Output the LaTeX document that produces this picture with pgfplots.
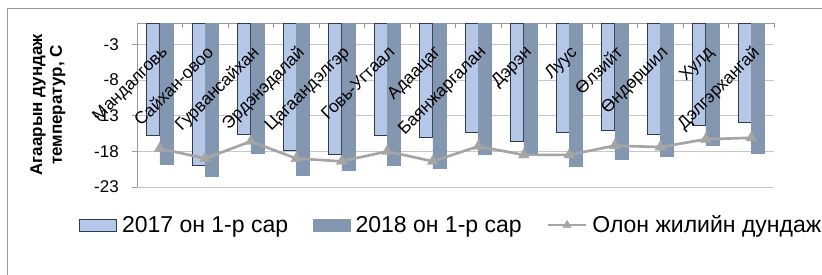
\documentclass[border=0pt]{standalone}
\usepackage{pgfplots}
\pgfplotsset{compat=1.18}
\usepackage{fontspec}
\setmainfont{Liberation Sans}
\definecolor{lightbar}{HTML}{B4C7E7}
\definecolor{darkbar}{HTML}{8497B0}
\definecolor{baredge}{HTML}{2F3B52}
\definecolor{avgline}{HTML}{A5A5A5}
\pgfplotsset{
  barleg/.style={legend image code/.code={\draw[##1] (0pt,-4.5pt) rectangle (27.75pt,4.5pt);}},
  lineleg/.style={legend image code/.code={\draw[mark repeat=2, mark phase=2, ##1, mark size=3.5pt] plot coordinates {(0pt,0pt) (14.25pt,0pt) (28.5pt,0pt)};}},
}
\begin{document}
\begin{tikzpicture}[x=0.75pt,y=0.75pt]
\draw[black!40, line width=0.75pt] (7.5,-20) rectangle (840,266);
\begin{axis}[
  at={(102.75pt,66pt)}, anchor=south west,
  scale only axis, width=477.75pt, height=123pt,
  xmin=0.5, xmax=14.5, ymin=-23, ymax=0,
  axis x line*=top, axis y line*=left,
  axis line style={-, black!40, line width=0.75pt},
  xtick={0.5,1.5,...,14.5}, xticklabels={},
  ytick={-23,-18,-13,-8,-3},
  yticklabels={-23,-18,-13,-8,-3},
  tick align=inside,
  major tick length=3.75pt,
  tick style={black!40, line width=0.75pt},
  ytick style={xshift=-3.75pt},
  yticklabel style={inner sep=0pt, xshift=-13.5pt, font=\fontsize{12.75pt}{15pt}\selectfont},
  ymajorgrids, major grid style={black!22, line width=0.75pt},
  ylabel={Агаарын дундаж\\температур, С},
  ylabel style={at={(axis description cs:-0.1397,0.5)}, anchor=center, align=center,
    font=\bfseries\fontsize{12.75pt}{14.8pt}\selectfont},
  legend columns=3,
  legend cell align=left,
  legend style={at={(axis description cs:-0.0911,-0.2317)}, anchor=west,
    draw=none, fill=none, inner sep=0pt,
    font=\fontsize{17.25pt}{20pt}\selectfont,
    nodes={inner sep=0pt},
    /tikz/every odd column/.append style={column sep=3.75pt},
    /tikz/every even column/.append style={column sep=18.75pt}},
  clip=false,
]
\addplot[ybar, bar width=9.75pt, bar shift=-4.875pt, fill=lightbar, draw=baredge, line width=0.6pt, barleg]
coordinates {(1,-15.7) (2,-20.0) (3,-15.6) (4,-17.9) (5,-18.4) (6,-15.8) (7,-16.1)
 (8,-15.3) (9,-16.6) (10,-15.4) (11,-15.0) (12,-15.6) (13,-14.3) (14,-14.0)};
\addlegendentry{2017 он 1-р сар}
\addplot[ybar, bar width=9.75pt, bar shift=4.875pt, fill=darkbar, draw=darkbar, line width=0.3pt, barleg]
coordinates {(1,-19.8) (2,-21.5) (3,-18.2) (4,-21.4) (5,-20.7) (6,-19.9) (7,-20.4)
 (8,-18.4) (9,-18.2) (10,-20.1) (11,-19.1) (12,-18.7) (13,-17.1) (14,-18.2)};
\addlegendentry{2018 он 1-р сар}
\addplot[avgline, line width=2pt, mark=triangle*, mark size=4.7pt,
  mark options={fill=avgline, draw=avgline, line width=0.3pt}, lineleg]
coordinates {(1,-17.6) (2,-19.0) (3,-16.6) (4,-19.0) (5,-19.4) (6,-18.0) (7,-19.4)
 (8,-17.3) (9,-18.5) (10,-18.5) (11,-17.2) (12,-17.4) (13,-16.3) (14,-16.1)};
\addlegendentry{Олон жилийн дундаж}
\tikzset{lab/.style={rotate=45, anchor=north east, inner sep=0pt, font=\fontsize{13pt}{15pt}\selectfont}}
\node[lab] at (axis cs:1,-3) {Мандалговь};
\node[lab] at (axis cs:2,-3) {Сайхан-овоо};
\node[lab] at (axis cs:3,-3) {Гурвансайхан};
\node[lab] at (axis cs:4,-3) {Эрдэнэдалай};
\node[lab] at (axis cs:5,-3) {Цагаандэлгэр};
\node[lab] at (axis cs:6,-3) {Говь-Угтаал};
\node[lab] at (axis cs:7,-3) {Адаацаг};
\node[lab] at (axis cs:8,-3) {Баянжаргалан};
\node[lab] at (axis cs:9,-3) {Дэрэн};
\node[lab] at (axis cs:10,-3) {Луус};
\node[lab] at (axis cs:11,-3) {Өлзийт};
\node[lab] at (axis cs:12,-3) {Өндөршил};
\node[lab] at (axis cs:13,-3) {Хулд};
\node[lab] at (axis cs:14,-3) {Дэлгэрхангай};
\end{axis}
\pgfresetboundingbox
\path[use as bounding box] (0,0) rectangle (822,275);
\end{tikzpicture}
\end{document}
